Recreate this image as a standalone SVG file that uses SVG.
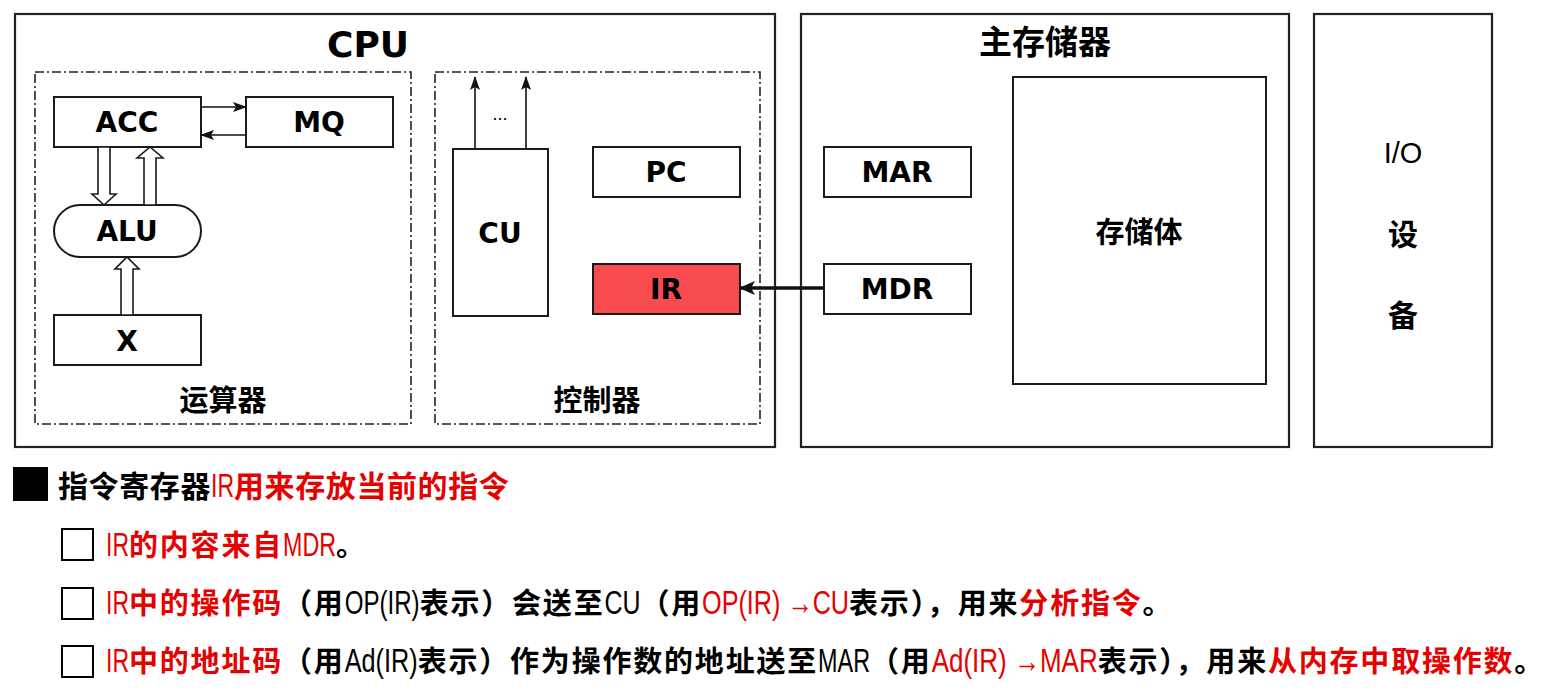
<svg xmlns="http://www.w3.org/2000/svg" width="1543" height="693" viewBox="0 0 1543 693">
<style>
.box{fill:#fff;stroke:#1a1a1a;stroke-width:2}
.frame{fill:#fff;stroke:#222;stroke-width:2.2}
.dd{fill:none;stroke:#222;stroke-width:1.6;stroke-dasharray:9 3 2 3}
.lbl{font-family:"DejaVu Sans",Verdana,sans-serif;font-weight:bold;font-size:28px;fill:#000;text-anchor:middle}
.cjk{font-family:"Noto Sans CJK SC",sans-serif;font-weight:bold;fill:#000;text-anchor:middle}
.hol{fill:#fff;stroke:#1a1a1a;stroke-width:1.6;stroke-linejoin:miter}
.thin{stroke:#111;stroke-width:1.6;fill:none}
.note{font-family:"Noto Sans CJK SC",sans-serif;font-weight:bold;font-size:29px;letter-spacing:1.8px;fill:#000}
.lat{font-family:"Liberation Sans",Arial,sans-serif;font-weight:normal;font-size:33px;letter-spacing:0}
.red{fill:#E60000}
</style>
<defs>
<marker id="ah" markerUnits="userSpaceOnUse" markerWidth="14" markerHeight="10" refX="13" refY="5" orient="auto">
<path d="M0,0 L14,5 L0,10 L3,5 Z" fill="#111"/>
</marker>
<marker id="ahb" markerUnits="userSpaceOnUse" markerWidth="16" markerHeight="14" refX="15" refY="7" orient="auto">
<path d="M0,0 L16,7 L0,14 L4,7 Z" fill="#111"/>
</marker>
</defs>
<rect width="1543" height="693" fill="#fff"/>

<g id="cpu">
<rect class="frame" x="15" y="14" width="760" height="433"/>
<text class="lbl" x="368" y="57" style="font-size:36px">CPU</text>
</g>
<g id="alu-group">
<rect class="dd" x="35" y="72" width="376" height="352"/>
<text class="cjk" x="223" y="411" font-size="29">运算器</text>
</g>
<g id="cu-group">
<rect class="dd" x="435" y="72" width="325" height="352"/>
<text class="cjk" x="597" y="411" font-size="29">控制器</text>
</g>
<g id="acc"><rect class="box" x="54" y="97" width="147" height="50"/><text class="lbl" x="127" y="132">ACC</text></g>
<g id="mq"><rect class="box" x="246" y="97" width="147" height="50"/><text class="lbl" x="319" y="132">MQ</text></g>
<g id="alu"><rect class="box" x="54" y="205" width="147" height="52" rx="26" ry="26"/><text class="lbl" x="127" y="241">ALU</text></g>
<g id="x"><rect class="box" x="54" y="315" width="147" height="50"/><text class="lbl" x="127" y="351">X</text></g>
<g id="cu"><rect class="box" x="453" y="149" width="95" height="167"/><text class="lbl" x="500" y="243">CU</text></g>
<g id="pc"><rect class="box" x="593" y="147" width="147" height="50"/><text class="lbl" x="666" y="182">PC</text></g>
<g id="ir"><rect class="box" x="593" y="264" width="147" height="50" style="fill:#F84B50"/><text class="lbl" x="666" y="299">IR</text></g>

<g id="memory">
<rect class="frame" x="801" y="14" width="488" height="433"/>
<text class="cjk" x="1045" y="54" font-size="33">主存储器</text>
</g>
<g id="mar"><rect class="box" x="824" y="147" width="147" height="50"/><text class="lbl" x="897" y="182">MAR</text></g>
<g id="mdr"><rect class="box" x="824" y="264" width="147" height="50"/><text class="lbl" x="897" y="299">MDR</text></g>
<g id="storage"><rect class="box" x="1013" y="77" width="253" height="307"/><text class="cjk" x="1139" y="243" font-size="29">存储体</text></g>

<g id="io">
<rect class="frame" x="1314" y="14" width="178" height="433"/>
<text x="1403" y="163" text-anchor="middle" style="font-family:'Liberation Sans',sans-serif;font-size:29px;fill:#000">I/O</text>
<text class="cjk" x="1403" y="245" font-size="30">设</text>
<text class="cjk" x="1403" y="326" font-size="30">备</text>
</g>

<g id="connectors">
<line class="thin" x1="201" y1="107" x2="246" y2="107" marker-end="url(#ah)"/>
<line class="thin" x1="246" y1="135" x2="201" y2="135" marker-end="url(#ah)"/>
<polygon class="hol" points="98,147 110,147 110,194 116,194 104,205 92,194 98,194"/>
<polygon class="hol" points="144,205 144,158 137,158 150,147 163,158 156,158 156,205"/>
<polygon class="hol" points="121,315 121,269 115,269 127,257 139,269 133,269 133,315"/>
<line class="thin" x1="475" y1="149" x2="475" y2="77" marker-end="url(#ah)"/>
<line class="thin" x1="526" y1="149" x2="526" y2="77" marker-end="url(#ah)"/>
<text x="500" y="120" text-anchor="middle" style="font-family:'Liberation Sans',sans-serif;font-size:18px;fill:#000">...</text>
<line x1="824" y1="288" x2="740" y2="288" stroke="#111" stroke-width="3.5" marker-end="url(#ahb)"/>
</g>

<g id="notes">
<rect x="13" y="467" width="35" height="34" fill="#000"/>
<text class="note" x="58" y="497" style="font-size:30px;letter-spacing:0.6px">指令寄存器<tspan class="lat red" textLength="23" lengthAdjust="spacingAndGlyphs">IR</tspan><tspan class="red">用来存放当前的指令</tspan></text>

<rect x="62" y="529" width="31" height="31" fill="#fff" stroke="#000" stroke-width="2"/>
<text class="note" x="106" y="556"><tspan class="lat red" textLength="23" lengthAdjust="spacingAndGlyphs">IR</tspan><tspan class="red">的内容来自</tspan><tspan class="lat red" textLength="53" lengthAdjust="spacingAndGlyphs">MDR</tspan>。</text>

<rect x="62" y="588" width="31" height="31" fill="#fff" stroke="#000" stroke-width="2"/>
<text class="note" x="106" y="614"><tspan class="lat red" textLength="23" lengthAdjust="spacingAndGlyphs">IR</tspan><tspan class="red">中的操作码</tspan>（用<tspan class="lat" textLength="75" lengthAdjust="spacingAndGlyphs">OP(IR)</tspan>表示）会送至<tspan class="lat" textLength="36" lengthAdjust="spacingAndGlyphs">CU</tspan>（用<tspan class="lat red" textLength="147" lengthAdjust="spacingAndGlyphs">OP(IR) →CU</tspan>表示），用来<tspan class="red">分析指令</tspan>。</text>

<rect x="62" y="646" width="31" height="31" fill="#fff" stroke="#000" stroke-width="2"/>
<text class="note" x="106" y="672"><tspan class="lat red" textLength="23" lengthAdjust="spacingAndGlyphs">IR</tspan><tspan class="red">中的地址码</tspan>（用<tspan class="lat" textLength="73" lengthAdjust="spacingAndGlyphs">Ad(IR)</tspan>表示）作为操作数的地址送至<tspan class="lat" textLength="52" lengthAdjust="spacingAndGlyphs">MAR</tspan>（用<tspan class="lat red" textLength="166" lengthAdjust="spacingAndGlyphs">Ad(IR) →MAR</tspan>表示），用来<tspan class="red">从内存中取操作数</tspan>。</text>
</g>
</svg>
